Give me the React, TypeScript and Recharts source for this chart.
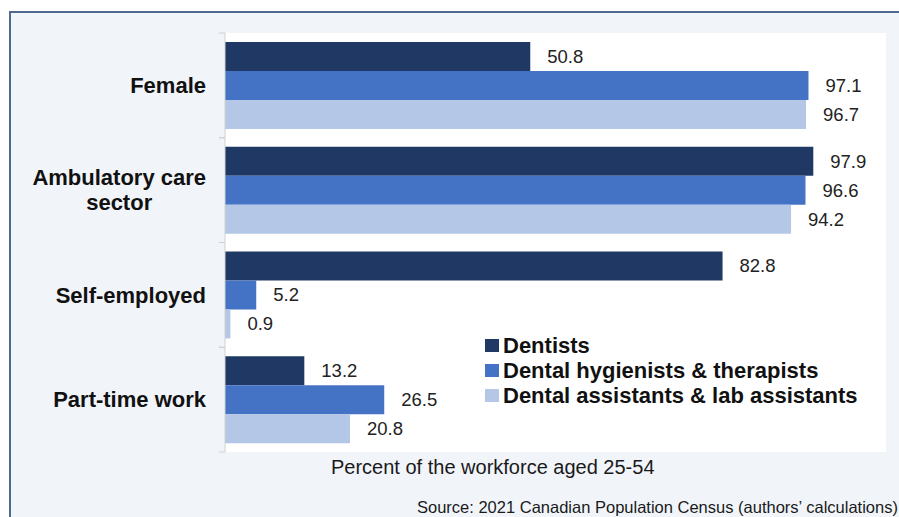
import { BarChart, Bar, XAxis, YAxis, CartesianGrid, LabelList } from 'recharts';

const categories = ['Female', 'Ambulatory care\nsector', 'Self-employed', 'Part-time work'];
const dentists = [50.8, 97.9, 82.8, 13.2];
const hygienists = [97.1, 96.6, 5.2, 26.5];
const assistants = [96.7, 94.2, 0.9, 20.8];

const seriesNames = ['Dentists', 'Dental hygienists & therapists', 'Dental assistants & lab assistants'];
const seriesColors = ['#1f3864', '#4472c4', '#b4c7e7'];

const data = categories.map((name, i) => ({
  name,
  dentists: dentists[i],
  hygienists: hygienists[i],
  assistants: assistants[i],
}));

const FONT = '"Liberation Sans", Arial, sans-serif';
const PLOT_TOP = 33;
const PLOT_BOTTOM = 65;
const AXIS_W = 225;
const band = (517 - PLOT_TOP - PLOT_BOTTOM) / categories.length;

let ctx: CanvasRenderingContext2D | null = null;
function textWidth(s: string, font: string) {
  if (!ctx) ctx = document.createElement('canvas').getContext('2d');
  if (!ctx) return s.length * 11;
  ctx.font = font;
  return ctx.measureText(s).width;
}

function CategoryTick(props: any) {
  const { y, payload } = props;
  const lines = String(payload.value).split('\n');
  const font = `bold 22px ${FONT}`;
  const maxW = Math.max(...lines.map((l) => textWidth(l, font)));
  const right = 206;
  const lineH = 25;
  const startY = y - ((lines.length - 1) * lineH) / 2;
  return (
    <g>
      <line x1={AXIS_W - 6} x2={AXIS_W} y1={y - band / 2} y2={y - band / 2} stroke="#d0d0d0" />
      <line x1={AXIS_W - 6} x2={AXIS_W} y1={y + band / 2} y2={y + band / 2} stroke="#d0d0d0" />
      {lines.map((l, i) => (
        <text
          key={i}
          x={lines.length > 1 ? right - maxW / 2 : right}
          y={startY + i * lineH}
          dy="0.35em"
          textAnchor={lines.length > 1 ? 'middle' : 'end'}
          fontFamily={FONT}
          fontWeight="bold"
          fontSize={22}
          fill="#111"
        >
          {l}
        </text>
      ))}
    </g>
  );
}

export default function App() {
  const keys = ['dentists', 'hygienists', 'assistants'];
  return (
    <div style={{ position: 'absolute', left: 0, top: 0, width: 899, height: 517, background: '#fff', overflow: 'hidden' }}>
      <div
        style={{
          position: 'absolute',
          left: 9,
          top: 11,
          width: 900,
          height: 520,
          borderLeft: '2px solid #4f6a92',
          borderTop: '2px solid #4f6a92',
          background: '#f1f5fa',
        }}
      />
      <div style={{ position: 'absolute', left: 0, top: 0 }}>
        <BarChart
          width={899}
          height={517}
          data={data}
          layout="vertical"
          margin={{ top: PLOT_TOP, right: 13, bottom: PLOT_BOTTOM, left: 0 }}
          barCategoryGap="8.5%"
          barGap={0}
        >
          <CartesianGrid fill="#ffffff" stroke="none" horizontal={false} vertical={false} />
          <XAxis type="number" domain={[0, 110]} hide />
          <YAxis
            type="category"
            dataKey="name"
            width={AXIS_W}
            axisLine={{ stroke: '#d0d0d0' }}
            tickLine={false}
            tick={<CategoryTick />}
            interval={0}
          />
          {keys.map((k, i) => (
            <Bar key={k} dataKey={k} name={seriesNames[i]} fill={seriesColors[i]} isAnimationActive={false}>
              <LabelList
                dataKey={k}
                position="right"
                offset={17}
                fontFamily={FONT}
                fontSize={18.5}
                fill="#222"
                formatter={(v: any) => Number(v).toFixed(1)}
              />
            </Bar>
          ))}
        </BarChart>
      </div>
      <div
        style={{
          position: 'absolute',
          left: 485,
          top: 333,
          fontFamily: FONT,
          fontWeight: 'bold',
          fontSize: 22,
          color: '#111',
          lineHeight: '25px',
          whiteSpace: 'nowrap',
        }}
      >
        {seriesNames.map((n, i) => (
          <div key={n} style={{ display: 'flex', alignItems: 'center' }}>
            <span style={{ width: 14, height: 13, background: seriesColors[i], display: 'inline-block', marginRight: 4 }} />
            {n}
          </div>
        ))}
      </div>
      <div style={{ position: 'absolute', left: 331, top: 456, fontFamily: FONT, fontSize: 20, color: '#1a1a1a', whiteSpace: 'nowrap' }}>
        Percent of the workforce aged 25-54
      </div>
      <div style={{ position: 'absolute', left: 417, top: 498, fontFamily: FONT, fontSize: 16.5, color: '#1a1a1a', whiteSpace: 'nowrap' }}>
        Source: 2021 Canadian Population Census (authors’ calculations)
      </div>
    </div>
  );
}
